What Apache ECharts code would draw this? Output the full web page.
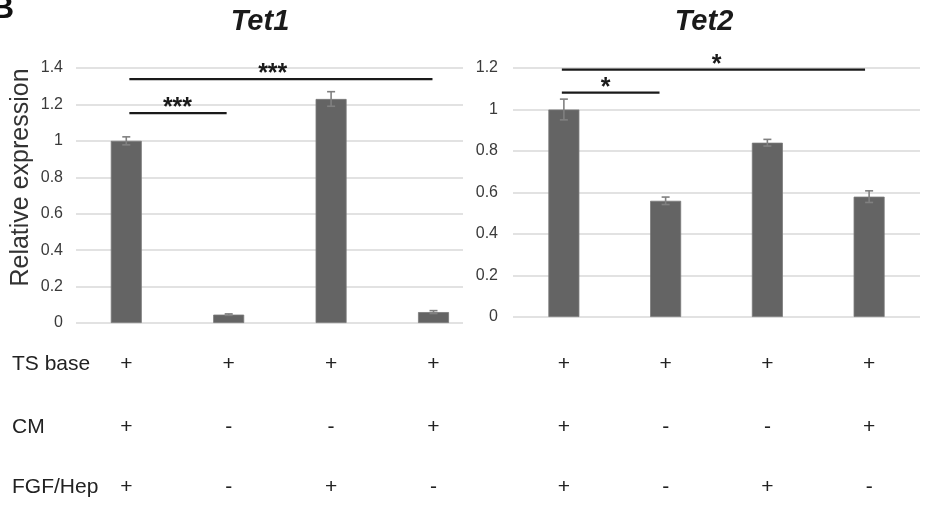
<!DOCTYPE html>
<html><head><meta charset="utf-8">
<script src="https://cdn.jsdelivr.net/npm/echarts@6/dist/echarts.min.js"></script>
<style>html,body{margin:0;padding:0;background:#fff}#c{width:925px;height:506px}</style>
</head><body><div id="c"></div>
<script>
// ---- data ----
var categories = ['TS+CM+FGF/Hep', 'TS', 'TS+FGF/Hep', 'TS+CM'];
var rowLabels = ['TS base', 'CM', 'FGF/Hep'];
var tsBaseRow = ['+', '+', '+', '+'];
var cmRow = ['+', '-', '-', '+'];
var fgfHepRow = ['+', '-', '+', '-'];
var tet1Values = [1.0, 0.046, 1.23, 0.06];
var tet1Errors = [0.022, 0.004, 0.04, 0.008];
var tet2Values = [1.0, 0.56, 0.84, 0.58];
var tet2Errors = [0.05, 0.018, 0.016, 0.028];
var tet1Ticks = [0, 0.2, 0.4, 0.6, 0.8, 1, 1.2, 1.4];
var tet2Ticks = [0, 0.2, 0.4, 0.6, 0.8, 1, 1.2];
// significance brackets: [fromIndex, toIndex, level, starIndex, label]
var tet1Sig = [[0.03, 2.99, 1.3385, 1.43, '***'], [0.03, 0.98, 1.152, 0.5, '***']];
var tet2Sig = [[-0.02, 2.96, 1.192, 1.5, '*'], [-0.02, 0.94, 1.081, 0.41, '*']];

// ---- rendering ----
var FONT = '"Liberation Sans", Arial, sans-serif';
var chart = echarts.init(document.getElementById('c'), null, {renderer: 'canvas'});

function barData(vals) { return vals.map(function (v, i) { return [i, v]; }); }
function errData(vals, errs) { return vals.map(function (v, i) { return [i, v, errs[i]]; }); }

function errRender(params, api) {
  var x = api.value(0), v = api.value(1), e = api.value(2);
  var hi = api.coord([x, v + e]), lo = api.coord([x, v - e]);
  var w = 4, st = {stroke: '#808080', lineWidth: 1.6};
  return {type: 'group', children: [
    {type: 'line', shape: {x1: hi[0], y1: hi[1], x2: lo[0], y2: lo[1]}, style: st},
    {type: 'line', shape: {x1: hi[0] - w, y1: hi[1], x2: hi[0] + w, y2: hi[1]}, style: st},
    {type: 'line', shape: {x1: lo[0] - w, y1: lo[1], x2: lo[0] + w, y2: lo[1]}, style: st}
  ]};
}

function sigRenderFactory(arr, fontSize) {
  return function (params, api) {
    var s = arr[params.dataIndex];
    var a = api.coord([s[0], s[2]]), b = api.coord([s[1], s[2]]);
    var t = api.coord([s[3], s[2]]);
    return {type: 'group', children: [
      {type: 'line', shape: {x1: a[0], y1: a[1], x2: b[0], y2: b[1]},
        style: {stroke: '#1a1a1a', lineWidth: 2.2}},
      {type: 'text', x: t[0], y: a[1] - 5,
        style: {text: s[4], fill: '#1a1a1a', font: 'bold ' + fontSize + 'px ' + FONT,
          align: 'center', verticalAlign: 'middle'}}
    ]};
  };
}

var rowY = [364, 427, 487];
var rows = [tsBaseRow, cmRow, fgfHepRow];
function tableRender(params, api) {
  var idx = api.value(0);
  var px = api.coord([idx, 0])[0];
  var ch = [];
  rows.forEach(function (r, k) {
    ch.push({type: 'text', x: px, y: rowY[k],
      style: {text: r[idx], fill: '#222', font: '21px ' + FONT, align: 'center', verticalAlign: 'middle'}});
  });
  return {type: 'group', children: ch};
}

function yAxisCfg(gi, ticks, margin) {
  return {
    type: 'value', gridIndex: gi, min: ticks[0], max: ticks[ticks.length - 1],
    interval: ticks[1] - ticks[0],
    axisLine: {show: false}, axisTick: {show: false},
    splitLine: {lineStyle: {color: '#d9d9d9', width: 1.5}},
    axisLabel: {fontSize: 16, color: '#3a3a3a', fontFamily: FONT, margin: margin}
  };
}

var option = {
  animation: false,
  backgroundColor: '#fff',
  grid: [
    {left: 76, top: 68, width: 387, height: 255},
    {left: 513, top: 68, width: 407, height: 249}
  ],
  xAxis: [
    {type: 'value', gridIndex: 0, min: -0.491, max: 3.288, show: false, splitLine: {show: false}},
    {type: 'value', gridIndex: 1, min: -0.5, max: 3.5, show: false, splitLine: {show: false}}
  ],
  yAxis: [yAxisCfg(0, tet1Ticks, 13), yAxisCfg(1, tet2Ticks, 15)],
  series: [
    {type: 'bar', name: 'Tet1', xAxisIndex: 0, yAxisIndex: 0, data: barData(tet1Values), barWidth: 31,
      itemStyle: {color: '#646464', borderColor: '#7a7a7a', borderWidth: 0.8}},
    {type: 'bar', name: 'Tet2', xAxisIndex: 1, yAxisIndex: 1, data: barData(tet2Values), barWidth: 31,
      itemStyle: {color: '#646464', borderColor: '#7a7a7a', borderWidth: 0.8}},
    {type: 'custom', xAxisIndex: 0, yAxisIndex: 0, data: errData(tet1Values, tet1Errors),
      encode: {x: 0, y: [1, 2]}, renderItem: errRender, z: 5},
    {type: 'custom', xAxisIndex: 1, yAxisIndex: 1, data: errData(tet2Values, tet2Errors),
      encode: {x: 0, y: [1, 2]}, renderItem: errRender, z: 5},
    {type: 'custom', xAxisIndex: 0, yAxisIndex: 0, data: tet1Sig.map(function (s) { return [s[0], s[1], s[2]]; }),
      encode: {x: [0, 1], y: 2}, renderItem: sigRenderFactory(tet1Sig, 25), clip: false, z: 6},
    {type: 'custom', xAxisIndex: 1, yAxisIndex: 1, data: tet2Sig.map(function (s) { return [s[0], s[1], s[2]]; }),
      encode: {x: [0, 1], y: 2}, renderItem: sigRenderFactory(tet2Sig, 25), clip: false, z: 6},
    {type: 'custom', xAxisIndex: 0, yAxisIndex: 0, data: categories.map(function (c, i) { return [i, 0]; }),
      encode: {x: 0, y: 1}, renderItem: tableRender, clip: false},
    {type: 'custom', xAxisIndex: 1, yAxisIndex: 1, data: categories.map(function (c, i) { return [i, 0]; }),
      encode: {x: 0, y: 1}, renderItem: tableRender, clip: false}
  ],
  graphic: [
    {type: 'text', x: 14, y: 9.5, style: {text: 'B', fill: '#111', font: 'bold 32px ' + FONT, align: 'right', verticalAlign: 'middle'}},
    {type: 'text', x: 260, y: 22, style: {text: 'Tet1', fill: '#1a1a1a', font: 'italic bold 29px ' + FONT, align: 'center', verticalAlign: 'middle'}},
    {type: 'text', x: 704, y: 22, style: {text: 'Tet2', fill: '#1a1a1a', font: 'italic bold 29px ' + FONT, align: 'center', verticalAlign: 'middle'}},
    {type: 'text', x: 21, y: 177.5, rotation: Math.PI / 2, style: {text: 'Relative expression', fill: '#333', font: '25px ' + FONT, align: 'center', verticalAlign: 'middle'}},
    {type: 'text', x: 12, y: rowY[0], style: {text: rowLabels[0], fill: '#222', font: '21px ' + FONT, align: 'left', verticalAlign: 'middle'}},
    {type: 'text', x: 12, y: rowY[1], style: {text: rowLabels[1], fill: '#222', font: '21px ' + FONT, align: 'left', verticalAlign: 'middle'}},
    {type: 'text', x: 12, y: rowY[2], style: {text: rowLabels[2], fill: '#222', font: '21px ' + FONT, align: 'left', verticalAlign: 'middle'}}
  ]
};
chart.setOption(option);
</script></body></html>
